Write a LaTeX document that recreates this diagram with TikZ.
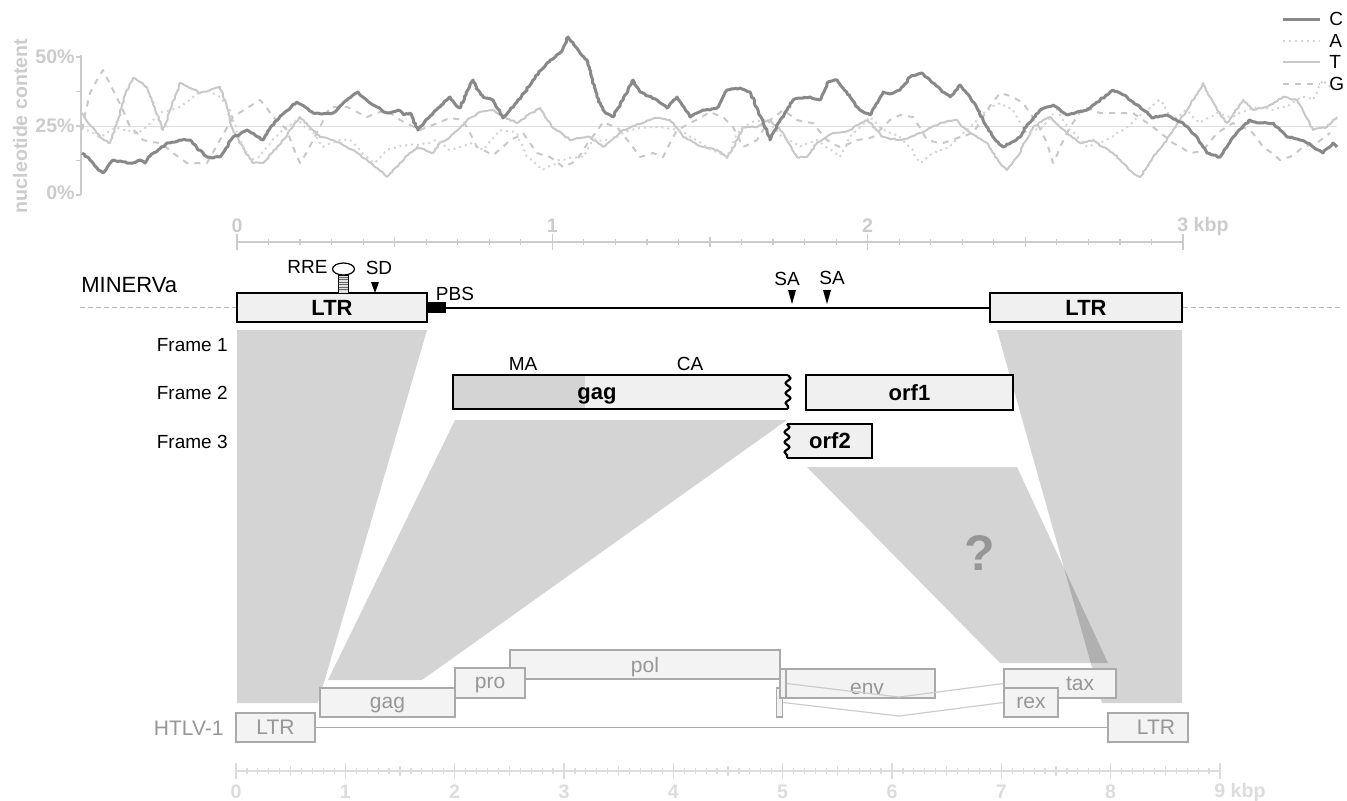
\documentclass[tikz,border=0pt]{standalone}
\usepackage{fontspec}
\setmainfont{Liberation Sans}
\usetikzlibrary{decorations.pathmorphing}
\definecolor{ntC}{RGB}{136,136,136}
\definecolor{ntT}{RGB}{200,200,200}
\definecolor{ntA}{RGB}{212,212,212}
\definecolor{ntG}{RGB}{200,200,200}
\definecolor{axgray}{RGB}{204,204,204}
\definecolor{axlight}{RGB}{220,220,220}
\definecolor{boxfill}{RGB}{240,240,240}
\definecolor{mafill}{RGB}{212,212,212}
\definecolor{hgray}{RGB}{170,170,170}
\definecolor{hfill}{RGB}{243,243,243}
\definecolor{htext}{RGB}{150,150,150}

\begin{document}
\begin{tikzpicture}[x=0.5pt, y=-0.5pt,
    mbox/.style={draw=black, line width=1.1pt, fill=boxfill, inner sep=0pt,
                 font=\fontsize{11}{13}\selectfont\bfseries},
    hbox/.style={draw=hgray, line width=0.6pt, fill=hfill, inner sep=0pt, text depth=0pt,
                 text=htext, font=\fontsize{10.5}{12}\selectfont},
    htxt/.style={text=htext, inner sep=0pt, font=\fontsize{10.5}{12}\selectfont},
    lbl/.style={inner sep=0pt, font=\fontsize{9.5}{11}\selectfont},
    axlbl/.style={text=axgray, inner sep=0pt, font=\fontsize{9.8}{11}\selectfont\bfseries},
    axline/.style={draw=axgray, line width=0.6pt},
    shade/.style={fill=black, fill opacity=0.17},
    jag/.style={decorate, decoration={random steps, segment length=1.2pt, amplitude=0.4pt}},
    cC/.style={draw=ntC, line width=1.5pt, line join=round},
    cT/.style={draw=ntT, line width=1pt, line join=round},
    cA/.style={draw=ntA, line width=1pt, dotted, line join=round},
    cG/.style={draw=ntG, line width=1pt, dash pattern=on 3pt off 3pt, line join=round},
    wavy/.style={decorate, decoration={snake, segment length=5pt, amplitude=1.2pt}}
  ]
  \useasboundingbox (0,0) rectangle (1347,800);
  \pgfmathsetseed{11}

  % nucleotide content plot
  \draw[axline] (81,55) -- (81,195);
  \foreach \p in {0,12.5,25,37.5,50}
    \draw[axline] (76,{195-\p*2.76}) -- (81,{195-\p*2.76});
  \node[axlbl, anchor=east] (p50) at (75,57) {50\%};
  \node[axlbl, anchor=east] (p25) at (75,126) {25\%};
  \node[axlbl, anchor=east] (p0)  at (75,193) {0\%};
  \node[axlbl, rotate=90] (ylab) at (20,126) {nucleotide content};
  \draw[draw=black!12, line width=0.5pt] (81,126) -- (1337,126);

  \draw[cT, jag] plot coordinates {(82,113) (90,125) (100,137) (110,143) (118,120) (125,95) (133,78) (140,82) (147,87) (155,108) (163,130) (172,105) (180,83) (190,88) (200,93) (210,90) (220,87) (227,108) (233,130) (243,148) (253,163) (263,163) (273,152) (283,140) (292,128) (300,117) (310,127) (320,137) (333,140) (345,146) (356,152) (367,160) (377,168) (387,177) (393,170) (400,163) (408,155) (417,147) (425,150) (433,153) (441,142) (450,137) (460,128) (470,118) (480,112) (493,110) (505,117) (517,123) (528,115) (540,108) (546,118) (553,128) (562,134) (570,140) (580,138) (590,137) (597,142) (603,147) (613,139) (623,130) (633,126) (643,123) (650,120) (657,118) (663,119) (670,120) (677,128) (683,137) (693,142) (703,147) (710,148) (717,150) (722,154) (727,158) (732,150) (737,140) (743,127) (750,127) (757,127) (763,123) (770,120) (777,127) (783,133) (790,145) (797,157) (807,157) (812,150) (817,143) (825,138) (833,133) (842,132) (850,130) (858,125) (867,120) (875,128) (883,137) (892,139) (900,140) (910,137) (920,133) (930,128) (940,123) (948,121) (957,120) (963,127) (970,133) (978,138) (987,143) (993,153) (1000,163) (1007,170) (1012,164) (1017,157) (1025,142) (1033,127) (1041,122) (1050,117) (1058,125) (1067,133) (1073,138) (1080,143) (1087,142) (1093,140) (1103,147) (1113,153) (1123,163) (1133,173) (1140,177) (1147,167) (1153,157) (1160,149) (1167,140) (1173,130) (1180,120) (1187,110) (1193,100) (1198,92) (1203,83) (1210,97) (1217,110) (1222,117) (1227,123) (1235,112) (1243,100) (1248,105) (1253,110) (1260,108) (1267,107) (1275,102) (1283,97) (1290,99) (1297,100) (1305,115) (1313,130) (1320,128) (1327,127) (1332,122) (1337,117)};
  \draw[cA, jag] plot coordinates {(82,127) (90,132) (100,137) (108,132) (117,127) (125,130) (133,133) (143,130) (152,121) (160,113) (170,110) (180,107) (187,102) (193,97) (200,93) (207,90) (213,93) (220,97) (225,103) (230,110) (235,125) (240,140) (245,150) (250,160) (255,158) (260,157) (265,150) (270,143) (277,136) (283,130) (290,125) (297,120) (303,125) (310,130) (317,138) (323,147) (330,143) (337,140) (343,140) (350,140) (355,145) (360,150) (367,157) (373,163) (380,158) (387,150) (393,148) (400,146) (407,145) (413,145) (420,144) (427,143) (437,140) (443,145) (450,150) (460,147) (470,143) (477,147) (483,150) (492,140) (500,130) (508,131) (517,133) (522,145) (527,157) (535,163) (543,170) (552,165) (560,160) (572,158) (583,157) (588,148) (593,140) (602,140) (610,140) (620,135) (630,130) (643,128) (657,127) (667,128) (677,130) (687,135) (697,140) (707,147) (717,153) (722,155) (727,157) (733,143) (740,130) (745,126) (750,123) (758,121) (767,120) (775,128) (783,137) (792,142) (800,147) (808,143) (817,140) (828,148) (840,157) (845,147) (850,137) (860,127) (870,117) (877,124) (883,130) (892,133) (900,137) (910,147) (920,163) (927,158) (933,153) (942,150) (950,147) (958,138) (967,130) (977,120) (987,110) (993,106) (1000,103) (1007,106) (1013,110) (1020,122) (1027,133) (1035,130) (1043,127) (1050,118) (1057,110) (1063,120) (1070,130) (1078,138) (1087,147) (1097,143) (1107,140) (1117,133) (1127,127) (1137,118) (1147,110) (1153,105) (1160,100) (1167,110) (1173,120) (1180,115) (1187,110) (1193,117) (1200,123) (1208,118) (1217,113) (1225,115) (1233,117) (1243,112) (1253,107) (1263,108) (1273,110) (1280,108) (1287,107) (1293,102) (1300,97) (1307,98) (1313,100) (1318,90) (1323,80) (1328,85) (1333,90)};
  \draw[cG] plot coordinates {(82,130) (86,110) (90,93) (97,80) (103,70) (108,80) (113,90) (122,108) (130,127) (137,133) (143,140) (152,142) (160,143) (167,148) (173,153) (180,158) (187,163) (197,163) (207,163) (220,140) (233,117) (247,108) (260,100) (267,108) (273,117) (280,123) (287,130) (293,147) (300,163) (307,152) (313,140) (322,123) (330,107) (340,107) (347,107) (357,112) (367,117) (377,113) (387,110) (393,115) (400,120) (410,125) (420,130) (435,124) (450,118) (457,119) (463,120) (470,133) (477,147) (485,151) (493,155) (502,148) (510,140) (517,137) (523,133) (530,143) (537,153) (543,155) (550,157) (557,162) (563,167) (570,164) (577,160) (583,150) (590,140) (597,131) (603,122) (610,125) (617,127) (623,135) (630,143) (635,150) (640,157) (647,155) (653,153) (658,155) (663,157) (670,143) (677,130) (683,127) (690,123) (700,118) (710,112) (717,115) (723,117) (728,122) (733,127) (738,137) (743,147) (750,144) (757,140) (763,130) (770,120) (777,115) (783,110) (790,115) (797,120) (805,122) (813,123) (820,132) (827,140) (833,144) (840,147) (848,144) (857,140) (865,139) (873,137) (882,128) (890,120) (900,115) (913,117) (920,128) (927,140) (935,142) (943,143) (952,140) (960,137) (967,135) (973,133) (980,122) (987,110) (993,102) (1000,93) (1007,95) (1013,97) (1018,100) (1023,103) (1030,113) (1037,123) (1042,133) (1047,143) (1050,153) (1053,163) (1057,155) (1060,147) (1065,137) (1070,127) (1077,117) (1083,107) (1092,110) (1100,113) (1108,113) (1117,113) (1125,113) (1133,113) (1143,120) (1153,127) (1163,135) (1173,143) (1182,148) (1190,153) (1197,152) (1203,150) (1210,142) (1217,133) (1225,128) (1233,123) (1242,127) (1250,130) (1257,138) (1263,147) (1272,153) (1280,160) (1285,158) (1290,157) (1297,152) (1303,147) (1310,145) (1317,143) (1323,138) (1330,133)};
  \draw[cC, jag] plot coordinates {(82,153) (90,160) (97,168) (103,173) (108,166) (113,160) (120,161) (127,163) (133,163) (140,160) (145,163) (150,156) (158,150) (167,143) (175,142) (182,140) (190,140) (197,148) (207,157) (213,158) (220,157) (226,148) (233,137) (240,134) (247,130) (255,135) (263,140) (270,128) (277,120) (285,112) (291,107) (297,102) (304,106) (313,113) (322,114) (333,113) (340,106) (347,100) (353,95) (358,92) (364,98) (370,103) (377,107) (384,112) (390,113) (398,110) (404,115) (410,113) (418,130) (425,121) (433,113) (441,105) (450,97) (455,104) (460,108) (466,93) (473,80) (478,90) (483,97) (493,100) (498,109) (503,118) (510,110) (517,102) (525,92) (533,80) (540,71) (547,63) (553,59) (560,53) (564,46) (568,37) (574,45) (580,53) (584,57) (587,60) (592,78) (597,97) (603,110) (608,114) (613,117) (618,108) (623,100) (628,90) (633,80) (637,87) (640,92) (648,96) (657,100) (662,104) (667,108) (672,102) (677,97) (683,106) (690,117) (697,113) (703,110) (710,110) (717,108) (722,99) (727,90) (733,89) (740,88) (745,90) (750,92) (757,108) (763,123) (767,131) (770,140) (775,130) (780,120) (787,110) (793,100) (800,98) (810,97) (815,99) (820,100) (824,92) (827,83) (832,81) (837,80) (843,88) (850,97) (855,104) (860,110) (865,113) (870,115) (876,104) (883,92) (890,94) (900,90) (905,84) (910,77) (916,75) (922,73) (928,78) (933,83) (941,90) (950,97) (955,91) (960,85) (965,91) (970,97) (977,108) (983,120) (988,128) (993,137) (998,142) (1003,147) (1012,142) (1020,137) (1027,125) (1033,118) (1040,110) (1047,107) (1053,105) (1060,110) (1067,115) (1077,112) (1087,110) (1093,105) (1100,100) (1107,95) (1113,90) (1120,93) (1127,97) (1133,102) (1140,107) (1147,112) (1153,118) (1160,116) (1167,115) (1175,119) (1183,123) (1190,130) (1197,137) (1202,145) (1207,153) (1213,155) (1220,157) (1227,147) (1233,137) (1242,128) (1250,120) (1255,122) (1260,123) (1267,123) (1273,123) (1280,130) (1287,137) (1293,138) (1300,140) (1307,143) (1313,147) (1318,150) (1323,153) (1328,148) (1333,143) (1337,147)};

  % legend
  \draw[cC] (1283,19) -- (1320,19);
  \draw[cA] (1283,41) -- (1320,41);
  \draw[cT] (1283,62) -- (1320,62);
  \draw[cG] (1283,84) -- (1320,84);
  \node[lbl, anchor=west] (legC) at (1329,19) {C};
  \node[lbl, anchor=west] (legA) at (1329,41) {A};
  \node[lbl, anchor=west] (legT) at (1329,62) {T};
  \node[lbl, anchor=west] (legG) at (1329,84) {G};

  % MINERVa scale
  \draw[axline] (237,242) -- (1183,242);
  \foreach \i in {0,...,30} \draw[axline] ({237+\i*(946/30)},239) -- ++(0,6);
  \foreach \i in {0,...,6} \draw[axline] ({237+\i*(946/6)},237) -- ++(0,10);
  \foreach \i in {0,...,3} \draw[axline] ({237+\i*(946/3)},234) -- ++(0,16);
  \foreach \i in {0,1,2} \node[axlbl] (top\i) at ({237+\i*(946/3)},226) {\i};
  \node[axlbl, anchor=west] (top3) at (1177,226) {3 kbp};

  % homology shading
  \fill[shade] (237,330) -- (427,330) -- (318,703) -- (237,703) -- cycle;
  \fill[shade] (455,420) -- (787,420) -- (422,680) -- (328,680) -- cycle;
  \fill[shade] (807,467) -- (1017,467) -- (1108,663) -- (1000,663) -- cycle;
  \fill[shade] (997,330) -- (1182,330) -- (1182,703) -- (1102,703) -- cycle;
  \node[text=htext, inner sep=0pt, font=\fontsize{25}{27}\selectfont\bfseries] (qmark) at (980,553) {?};

  % MINERVa genome
  \node[anchor=west, inner sep=0pt, font=\fontsize{11}{13}\selectfont] (minerva) at (81,285) {MINERVa};
  \node[mbox, minimum width=95pt, minimum height=14.5pt] (ltrA) at (332,307.5) {LTR};
  \node[mbox, minimum width=96pt, minimum height=14.5pt] (ltrB) at (1086,307.5) {LTR};
  \node[fill=black, inner sep=0pt, minimum width=9.5pt, minimum height=5.5pt] (pbs) at (436.5,307.5) {};
  \coordinate (dashL) at (80,307.5);
  \coordinate (dashR) at (1340,307.5);
  \draw[black!28, line width=0.7pt, dash pattern=on 2.5pt off 1.5pt] (dashL) -- (ltrA.west);
  \draw[black!28, line width=0.7pt, dash pattern=on 2.5pt off 1.5pt] (ltrB.east) -- (dashR);
  \draw[line width=1pt] (pbs.east) -- (ltrB.west);
  \node[lbl] (pbsl) at (455,294) {PBS};
  % RRE stem-loop
  \draw[fill=black!12, line width=0.4pt] (338.5,275) rectangle (348,293);
  \foreach \yy in {277,279.5,...,291} \draw[black!60, line width=0.3pt] (338.5,\yy) -- (348,\yy);
  \draw[fill=white, line width=0.6pt] (343.5,269) ellipse [x radius=11, y radius=6];
  \node[lbl, anchor=east] (rre) at (328,267) {RRE};
  \fill (371,282) -- (379,282) -- (375,293) -- cycle;
  \node[lbl] (sd) at (379,268) {SD};
  \fill (788,290) -- (796,290) -- (792,304) -- cycle;
  \fill (823,290) -- (831,290) -- (827,304) -- cycle;
  \node[lbl] (sa1) at (787,279) {SA};
  \node[lbl] (sa2) at (832,278) {SA};

  % reading frames
  \node[lbl, anchor=east] (fr1) at (228,345) {Frame 1};
  \node[lbl, anchor=east] (fr2) at (228,393) {Frame 2};
  \node[lbl, anchor=east] (fr3) at (228,442) {Frame 3};
  \fill[boxfill] (453,375) rectangle (788,409);
  \fill[mafill] (453,375) rectangle (585,409);
  \draw[line width=1.1pt] (788,375) -- (453,375) -- (453,409) -- (788,409);
  \draw[line width=1.1pt, wavy] (788,375) -- (788,409);
  \node[inner sep=0pt, font=\fontsize{11}{13}\selectfont\bfseries] (gagM) at (597,396) {gag};
  \node[lbl] (ma) at (523,364) {MA};
  \node[lbl] (ca) at (690,364) {CA};
  \node[mbox, minimum width=103.5pt, minimum height=17.5pt] (orf1) at (909.5,392.5) {orf1};
  \fill[boxfill] (787,424) rectangle (872,458);
  \draw[line width=1.1pt] (787,424) -- (872,424) -- (872,458) -- (787,458);
  \draw[line width=1.1pt, wavy] (787,424) -- (787,458);
  \node[inner sep=0pt, font=\fontsize{11}{13}\selectfont\bfseries] (orf2) at (830,441) {orf2};

  % HTLV-1 genome
  \node[htxt, anchor=east] (htlv) at (224,728) {HTLV-1};
  \node[hbox, minimum width=39.5pt, minimum height=14.5pt] (hltrA) at (275.5,727.5) {LTR};
  \node[hbox, minimum width=40pt, minimum height=14.5pt] (hltrB) at (1148,727.5) {\hspace*{8pt}LTR};
  \draw[hgray, line width=0.8pt] (hltrA.east) -- (hltrB.west);
  \node[hbox, minimum width=67.5pt, minimum height=14.5pt] (hgag) at (387.5,702.5) {gag};
  \node[hbox, minimum width=135pt, minimum height=14.5pt] (hpol) at (645,664.5) {pol};
  \node[hbox, minimum width=35pt, minimum height=15pt] (hpro) at (490,683) {pro};
  \node[hbox, minimum width=76pt, minimum height=14.5pt] (henv) at (859,683.5) {};
  \node[htxt] (envl) at (867,689) {env};
  \node[hbox, minimum width=3pt, minimum height=14.5pt] (hx1) at (779.5,702.5) {};
  \node[hbox, minimum width=3pt, minimum height=14.5pt] (hx2) at (783,683.5) {};
  \node[hbox, minimum width=56pt, minimum height=14.5pt] (htax) at (1060,683.5) {};
  \node[htxt] (taxl) at (1080,684) {tax};
  \node[hbox, minimum width=27pt, minimum height=14.5pt] (hrex) at (1031,702.5) {rex};
  \draw[black!20, line width=0.6pt] (hx2.east) -- (899,697) -- (htax.west);
  \draw[black!20, line width=0.6pt] (hx1.east) -- (899,716) -- (hrex.west);

  % HTLV-1 scale
  \draw[draw=axlight, line width=0.6pt] (236,771) -- (1220,771);
  \foreach \i in {0,...,90} \draw[draw=axlight, line width=0.6pt] ({236+\i*(984/90)},768) -- ++(0,6);
  \foreach \i in {0,...,18} \draw[draw=axlight, line width=0.6pt] ({236+\i*(984/18)},766) -- ++(0,10);
  \foreach \i in {0,...,9} \draw[draw=axlight, line width=0.6pt] ({236+\i*(984/9)},763) -- ++(0,16);
  \foreach \i in {0,...,8} \node[axlbl, text=axlight] (bot\i) at ({236+\i*(984/9)},792) {\i};
  \node[axlbl, text=axlight, anchor=west] (bot9) at (1214,792) {9 kbp};
\end{tikzpicture}
\end{document}
